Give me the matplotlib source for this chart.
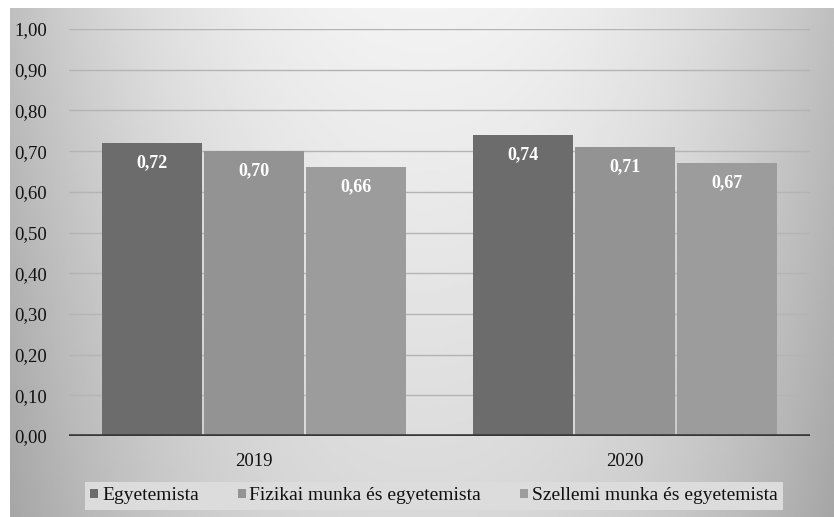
import numpy as np
import matplotlib.pyplot as plt

years = ['2019', '2020']
series = ['Egyetemista', 'Fizikai munka és egyetemista', 'Szellemi munka és egyetemista']
egyetemista = [0.72, 0.74]
fizikai = [0.70, 0.71]
szellemi = [0.66, 0.67]
colors = ['#6c6c6c', '#939393', '#9c9c9c']

plt.rcParams['font.family'] = ['Liberation Serif', 'DejaVu Serif']

fig = plt.figure(figsize=(8.34, 5.17), dpi=100, facecolor='white')

# grey gradient background (lighter top centre, darker edges)
bg = fig.add_axes([10 / 834, 0, 1 - 10 / 834, 1 - 8 / 517], zorder=-10)
gx = np.linspace(0, 1, 300)
gy = np.linspace(0, 1, 200)
X, Y = np.meshgrid(gx, gy)
grad = 0.95 - 0.20 * (np.abs(X - 0.5) * 2) ** 2.2 - 0.10 * Y
bg.imshow(grad, cmap='gray', vmin=0, vmax=1, aspect='auto', extent=[0, 1, 1, 0])
bg.axis('off')

ax = fig.add_axes([69 / 834, 1 - 436 / 517, (810 - 69) / 834, (436 - 29) / 517])
ax.patch.set_alpha(0)

x = np.arange(len(years))
w = 0.27
step = 0.275
for i, (vals, c) in enumerate(zip([egyetemista, fizikai, szellemi], colors)):
    pos = x + (i - 1) * step
    bars = ax.bar(pos, vals, w, color=c, label=series[i], zorder=3)
    for b, v in zip(bars, vals):
        ax.annotate(('%.2f' % v).replace('.', ','), (b.get_x() + b.get_width() / 2, v),
                    xytext=(0, -14), textcoords='offset points', ha='center', va='center',
                    color='white', fontsize=13, fontweight='bold', zorder=4)

ax.set_xlim(-0.5, 1.5)
ax.set_ylim(0, 1.0)
yt = np.arange(0, 1.01, 0.1)
ax.set_yticks(yt)
ax.set_yticklabels([('%.2f' % t).replace('.', ',') for t in yt], fontsize=13.5, color='#111111')
ax.set_xticks(x)
ax.set_xticklabels(years, fontsize=13.5, color='#111111')
ax.tick_params(axis='y', length=0, pad=16)
ax.tick_params(axis='x', length=0, pad=12)
ax.yaxis.grid(True, color='#b4b4b4', linewidth=1, zorder=0)
ax.set_axisbelow(True)
for s in ax.spines.values():
    s.set_visible(False)
ax.axhline(0, color='#383838', linewidth=2.6, zorder=5)

leg = fig.legend(loc='center', bbox_to_anchor=(434 / 834, 1 - 496 / 517), ncol=3,
                 fontsize=14, frameon=True, fancybox=False, handlelength=0.4,
                 handleheight=0.4, handletextpad=0.2, columnspacing=2.0,
                 borderpad=0.3, labelcolor='#111111')
leg.get_frame().set_facecolor('#dcdcdc')
leg.get_frame().set_edgecolor('none')
leg.get_frame().set_alpha(1)

plt.savefig('out.png', dpi=100)
